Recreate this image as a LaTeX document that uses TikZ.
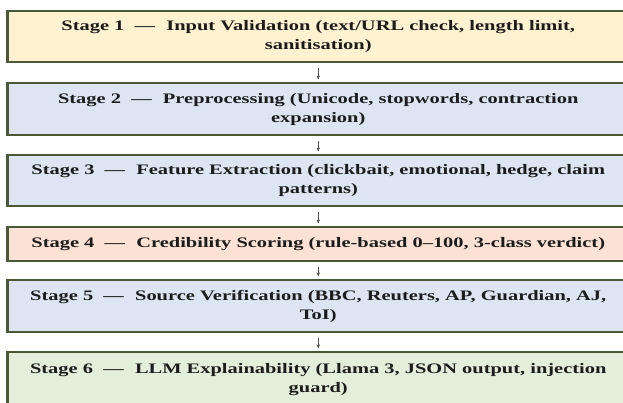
\documentclass[tikz,border=0pt]{standalone}
\usepackage{fontspec}
\setmainfont{Liberation Serif}
\usetikzlibrary{arrows.meta}
\definecolor{edgecol}{HTML}{4A5838}
\definecolor{fillA}{HTML}{FEF2D0}
\definecolor{fillB}{HTML}{DCE5F1}
\definecolor{fillC}{HTML}{FBE2D5}
\definecolor{fillD}{HTML}{E3EFDA}
\definecolor{txtcol}{HTML}{1C1C1C}
\definecolor{arrcol}{HTML}{4D4D4D}
\newcommand{\dsh}{\hskip0.5em—\hskip0.55em}
\newcommand{\stg}[1]{\scalebox{1.41}[1]{\begin{tabular}{@{}c@{}}#1\end{tabular}}}
\begin{document}
\begin{tikzpicture}[x=1pt,y=1pt,
  stagebox/.style={draw=edgecol, line width=2.2pt, minimum width=621.5pt,
    inner sep=0pt, align=center, text=txtcol,
    font=\fontsize{14.5}{19}\selectfont\bfseries},
  flowarrow/.style={draw=arrcol, line width=0.7pt, -{Stealth[length=4pt,width=3.5pt]},
    shorten <=5pt, shorten >=2.5pt}]
\useasboundingbox (0,0) rectangle (623,403);
\clip (0,0) rectangle (623,403);
\node[stagebox, fill=fillA, minimum height=51pt] (s1) at (318.25,403-36.5)
  {\stg{Stage 1\dsh Input Validation (text/URL check, length limit,\\ sanitisation)}};
\node[stagebox, fill=fillB, minimum height=52pt] (s2) at (318.25,403-109)
  {\stg{Stage 2\dsh Preprocessing (Unicode, stopwords, contraction\\ expansion)}};
\node[stagebox, fill=fillB, minimum height=51pt] (s3) at (318.25,403-180.5)
  {\stg{Stage 3\dsh Feature Extraction (clickbait, emotional, hedge, claim\\ patterns)}};
\node[stagebox, fill=fillC, minimum height=34pt] (s4) at (318.25,403-244)
  {\stg{Stage 4\dsh Credibility Scoring (rule-based 0–100, 3-class verdict)}};
\node[stagebox, fill=fillB, minimum height=52pt] (s5) at (318.25,403-306)
  {\stg{Stage 5\dsh Source Verification (BBC, Reuters, AP, Guardian, AJ,\\ ToI)}};
\node[stagebox, fill=fillD, minimum height=55pt] (s6) at (318.25,403-379.5)
  {\stg{Stage 6\dsh LLM Explainability (Llama 3, JSON output, injection\\ guard)}};
\draw[flowarrow] (s1) -- (s2);
\draw[flowarrow] (s2) -- (s3);
\draw[flowarrow] (s3) -- (s4);
\draw[flowarrow] (s4) -- (s5);
\draw[flowarrow] (s5) -- (s6);
\end{tikzpicture}
\end{document}
